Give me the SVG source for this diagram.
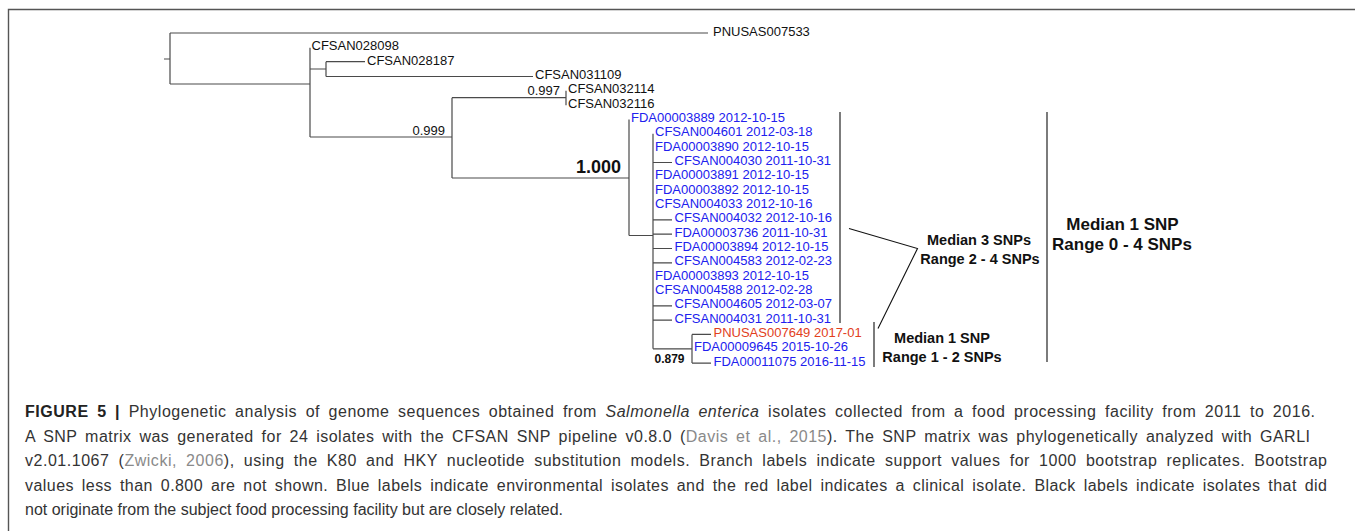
<svg xmlns="http://www.w3.org/2000/svg" width="1355" height="531" viewBox="0 0 1355 531">
<style>
.frame{fill:none;stroke:#555;stroke-width:1.4}
.br{fill:none;stroke:#4a4a4a;stroke-width:1.2}
.bk{fill:none;stroke:#111;stroke-width:1.1}
.lb{font-family:"Liberation Sans",Arial,sans-serif;font-size:13px}
.k{fill:#111}
.b{fill:#2020ee}
.r{fill:#e2401c}
.sup{font-family:"Liberation Sans",Arial,sans-serif;font-size:13px;fill:#111;text-anchor:end}
.big{font-size:18px;font-weight:bold}
.sm{font-size:12px;font-weight:bold}
.ann{font-family:"Liberation Sans",Arial,sans-serif;font-weight:bold;fill:#111;text-anchor:middle}
.a1{font-size:14.5px}
.a2{font-size:17px}
.cap{font-family:"Liberation Sans",Arial,sans-serif;font-size:16px;fill:#333}
.lnk{fill:#8a8a8a}
</style>
<rect width="1355" height="531" fill="#fff"/>
<path class="frame" d="M8.5,531 V9.5 H1355"/>

<g id="connectors">
<path class="br" d="M164,59 H170 M170,33 V84 M170,33 H708 M170,84 H310"/>
<path class="br" d="M310,47.8 V137 M310,69 H326 M326,61.7 V76.5 M326,61.7 H365 M326,76.5 H533"/>
<path class="br" d="M310,137 H452 M452,97.7 V178 M452,97.7 H566 M566,90.8 V105.2"/>
<path class="br" d="M452,178 H629 M629,119.5 V235.5 M629,235.5 H653 M653,133.8 V348.8"/>
<path class="br" d="M653,162.5 H672 M653,219.8 H672 M653,234.1 H672 M653,248.5 H672 M653,262.8 H672 M653,305.8 H672 M653,320.1 H672"/>
<path class="br" d="M653,348.8 H692 M692,334.4 V363.1 M692,334.4 H711 M692,363.1 H711"/>
<path class="bk" d="M840,112 V323 M874,322 V367 M1047,112 V362 M849,228.5 L917.5,248.5 L878,328.5"/>
</g>

<g id="n-PNUSAS007533"><text class="lb k" x="713" y="36">PNUSAS007533</text></g>
<g id="n-CFSAN028098"><text class="lb k" x="311.5" y="50.3">CFSAN028098</text></g>
<g id="n-CFSAN028187"><text class="lb k" x="367" y="64.7">CFSAN028187</text></g>
<g id="n-CFSAN031109"><text class="lb k" x="535" y="79">CFSAN031109</text></g>
<g id="n-CFSAN032114"><text class="lb k" x="568" y="93.3">CFSAN032114</text></g>
<g id="n-CFSAN032116"><text class="lb k" x="568" y="107.7">CFSAN032116</text></g>
<g id="n-FDA00003889"><text class="lb b" x="631" y="122">FDA00003889 2012-10-15</text></g>
<g id="n-CFSAN004601"><text class="lb b" x="655" y="136.3">CFSAN004601 2012-03-18</text></g>
<g id="n-FDA00003890"><text class="lb b" x="655" y="150.6">FDA00003890 2012-10-15</text></g>
<g id="n-CFSAN004030"><text class="lb b" x="674.5" y="165">CFSAN004030 2011-10-31</text></g>
<g id="n-FDA00003891"><text class="lb b" x="655" y="179.3">FDA00003891 2012-10-15</text></g>
<g id="n-FDA00003892"><text class="lb b" x="655" y="193.6">FDA00003892 2012-10-15</text></g>
<g id="n-CFSAN004033"><text class="lb b" x="655" y="208">CFSAN004033 2012-10-16</text></g>
<g id="n-CFSAN004032"><text class="lb b" x="674.5" y="222.3">CFSAN004032 2012-10-16</text></g>
<g id="n-FDA00003736"><text class="lb b" x="674.5" y="236.6">FDA00003736 2011-10-31</text></g>
<g id="n-FDA00003894"><text class="lb b" x="674.5" y="251">FDA00003894 2012-10-15</text></g>
<g id="n-CFSAN004583"><text class="lb b" x="674.5" y="265.3">CFSAN004583 2012-02-23</text></g>
<g id="n-FDA00003893"><text class="lb b" x="655" y="279.6">FDA00003893 2012-10-15</text></g>
<g id="n-CFSAN004588"><text class="lb b" x="655" y="294">CFSAN004588 2012-02-28</text></g>
<g id="n-CFSAN004605"><text class="lb b" x="674.5" y="308.3">CFSAN004605 2012-03-07</text></g>
<g id="n-CFSAN004031"><text class="lb b" x="674.5" y="322.6">CFSAN004031 2011-10-31</text></g>
<g id="n-PNUSAS007649"><text class="lb r" x="713.5" y="336.9">PNUSAS007649 2017-01</text></g>
<g id="n-FDA00009645"><text class="lb b" x="694" y="351.3">FDA00009645 2015-10-26</text></g>
<g id="n-FDA00011075"><text class="lb b" x="713.5" y="365.6">FDA00011075 2016-11-15</text></g>

<g id="support-values">
<text class="sup" x="445" y="134.5">0.999</text>
<text class="sup" x="560" y="95">0.997</text>
<text class="sup big" x="621" y="173">1.000</text>
<text class="sup sm" x="684.5" y="363">0.879</text>
</g>

<g id="ann-clade3">
<text class="ann a1" x="979" y="245">Median 3 SNPs</text>
<text class="ann a1" x="980" y="263.5">Range 2 - 4 SNPs</text>
</g>
<g id="ann-clade1">
<text class="ann a1" x="942" y="343">Median 1 SNP</text>
<text class="ann a1" x="942" y="361.5">Range 1 - 2 SNPs</text>
</g>
<g id="ann-all">
<text class="ann a2" x="1122.5" y="230">Median 1 SNP</text>
<text class="ann a2" x="1122" y="250">Range 0 - 4 SNPs</text>
</g>

<g id="caption">
<text class="cap" x="25" y="417" word-spacing="3.6" textLength="1290" lengthAdjust="spacing"><tspan font-weight="bold" fill="#222">FIGURE 5 |</tspan> Phylogenetic analysis of genome sequences obtained from <tspan font-style="italic">Salmonella enterica</tspan> isolates collected from a food processing facility from 2011 to 2016.</text>
<text class="cap" x="25" y="441.5" word-spacing="2.9" textLength="1285" lengthAdjust="spacing">A SNP matrix was generated for 24 isolates with the CFSAN SNP pipeline v0.8.0 (<tspan class="lnk">Davis et al., 2015</tspan>). The SNP matrix was phylogenetically analyzed with GARLI</text>
<text class="cap" x="25" y="466" word-spacing="4.2" textLength="1302" lengthAdjust="spacing">v2.01.1067 (<tspan class="lnk">Zwicki, 2006</tspan>), using the K80 and HKY nucleotide substitution models. Branch labels indicate support values for 1000 bootstrap replicates. Bootstrap</text>
<text class="cap" x="25" y="490.5" word-spacing="3" textLength="1302" lengthAdjust="spacing">values less than 0.800 are not shown. Blue labels indicate environmental isolates and the red label indicates a clinical isolate. Black labels indicate isolates that did</text>
<text class="cap" x="25" y="515">not originate from the subject food processing facility but are closely related.</text>
</g>
</svg>
